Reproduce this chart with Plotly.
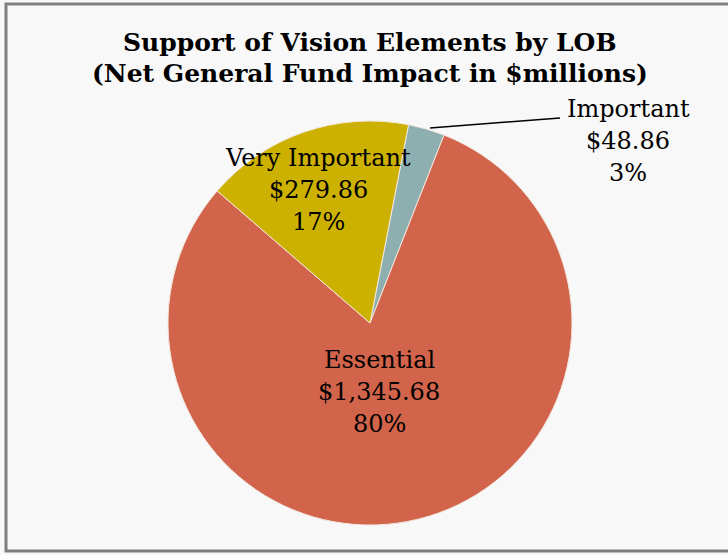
import plotly.graph_objects as go

W, H = 728, 555

categories = ["Important", "Essential", "Very Important"]
values = [48.86, 1345.68, 279.86]
percent_labels = ["3%", "80%", "17%"]
colors = ["#8EAFB0", "#D1644A", "#CDB100"]

title_lines = ["Support of Vision Elements by LOB",
               "(Net General Fund Impact in $millions)"]

# label anchor positions in pixels (centre x, first-line y)
label_pos = {"Important": (628, 109), "Essential": (379, 360), "Very Important": (318, 158)}
line_gap = 32

cx, cy, r = 370, 323, 202

def px(x):
    return x / W

def py(y):
    return 1 - y / H

fig = go.Figure()
fig.add_trace(go.Pie(
    labels=categories,
    values=values,
    sort=False,
    direction="clockwise",
    rotation=11,
    textinfo="none",
    hoverinfo="label+value+percent",
    marker=dict(colors=colors, line=dict(color="#f2e6dc", width=1)),
    domain=dict(x=[px(cx - r), px(cx + r)], y=[py(cy + r), py(cy - r)]),
    showlegend=False,
))

ann = []
for i, t in enumerate(title_lines):
    ann.append(dict(x=px(370), y=py(43 + 31 * i), xref="paper", yref="paper",
                    text="<b>%s</b>" % t, showarrow=False,
                    font=dict(family="DejaVu Serif", size=25, color="black"),
                    xanchor="center", yanchor="middle"))

for cat, val, pct in zip(categories, values, percent_labels):
    x0, y0 = label_pos[cat]
    lines = [cat, "${:,.2f}".format(val), pct]
    for j, s in enumerate(lines):
        ann.append(dict(x=px(x0), y=py(y0 + j * line_gap), xref="paper", yref="paper",
                        text=s, showarrow=False,
                        font=dict(family="DejaVu Serif", size=24, color="black"),
                        xanchor="center", yanchor="middle"))

shapes = [
    dict(type="rect", xref="paper", yref="paper", x0=px(6), x1=px(740), y0=py(551), y1=py(4),
         line=dict(color="#7f7f7f", width=3), fillcolor="rgba(0,0,0,0)", layer="below"),
    dict(type="line", xref="paper", yref="paper", x0=px(430), y0=py(128), x1=px(560), y1=py(118),
         line=dict(color="black", width=1.5)),
]

fig.update_layout(
    width=W, height=H,
    margin=dict(l=0, r=0, t=0, b=0),
    paper_bgcolor="#f8f8f8",
    plot_bgcolor="#f8f8f8",
    annotations=ann,
    shapes=shapes,
)

fig.write_html("out.html",
               config={"displayModeBar": False},
               post_script="document.body.style.margin='0';document.body.style.padding='0';")
